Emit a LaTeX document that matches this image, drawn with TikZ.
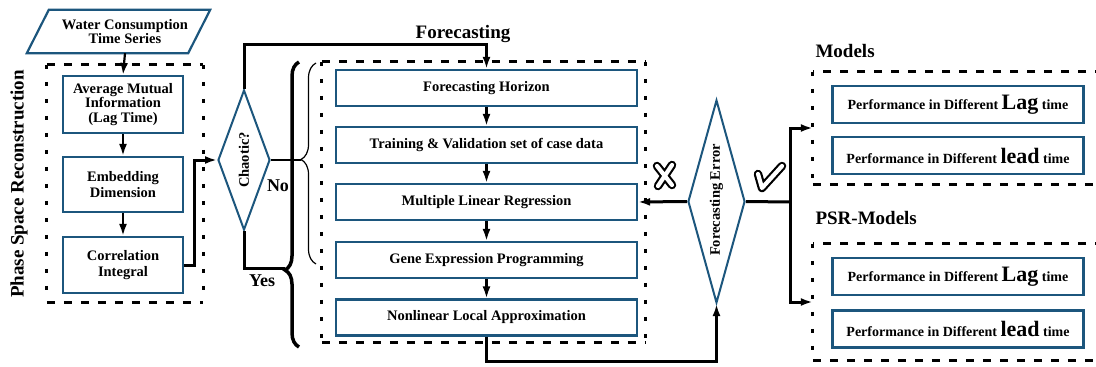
\documentclass[tikz,border=0pt]{standalone}
\usepackage{fontspec}
\setmainfont{Liberation Serif}
\usetikzlibrary{arrows.meta,shapes.geometric,decorations.pathreplacing,calc}
\definecolor{boxblue}{RGB}{28,86,125}
\begin{document}
\begin{tikzpicture}[x=1pt,y=-1pt,
  fs/.style={font=\fontsize{14.5}{16.5}\selectfont\bfseries},
  big/.style={font=\fontsize{19}{21}\selectfont\bfseries},
  box/.style={draw=boxblue, line width=2.2pt, rectangle, inner sep=0pt, align=center, fs},
  pbox/.style={draw=boxblue, line width=2.2pt, rectangle, inner sep=0pt, minimum width=251, minimum height=37,
    font=\fontsize{14}{16}\selectfont\bfseries},
  dia/.style={draw=boxblue, line width=2pt, diamond, inner sep=0pt},
  frame/.style={draw=none, rectangle, inner sep=0pt},
  hdash/.style={line width=3pt, dash pattern=on 8pt off 9pt},
  vdash/.style={line width=3pt, dash pattern=on 4pt off 13pt},
  conn/.style={line width=3pt},
  thinconn/.style={line width=2.2pt},
  arr/.style={-{Latex[length=12pt,width=8pt]}},
  outl/.style={line width=8.5pt, line cap=round, line join=round},
  inl/.style={line width=4.2pt, white, line cap=round, line join=round},
]
\useasboundingbox (0,0) rectangle (1096,367);

% ---------- left column ----------
\node[frame, minimum width=148, minimum height=43] (src) at (125,31.5) {};
\draw[boxblue, line width=2.2pt, line join=miter]
  ($(src.north west)+(-2,0)$) -- ($(src.north east)+(11,0)$) -- ($(src.south east)+(-11,0)$) -- ($(src.south west)+(-24,0)$) -- cycle;
\node[fs, align=center] at (src.center) {Water Consumption\\[-2pt]Time Series};

\node[frame, minimum width=156, minimum height=237] (psr) at (125,183.5) {};
\draw[hdash] (psr.north west) -- (psr.north east);
\draw[hdash] (psr.south west) -- (psr.south east);
\draw[vdash] (psr.north west) -- (psr.south west);
\draw[vdash] (psr.north east) -- (psr.south east);

\node[box, minimum width=120, minimum height=57] (ami) at (123,104.5) {Average Mutual\\[-2pt]Information\\[-2pt](Lag Time)};
\node[box, minimum width=120, minimum height=55] (emb) at (123,184.5) {Embedding\\[-1pt]Dimension};
\node[box, minimum width=120, minimum height=56] (cor) at (123,265) {Correlation\\[-1pt]Integral};

\node[big, rotate=90] (psrlab) at (19,184) {Phase Space Reconstruction};

\draw[thinconn, arr] (src.south) -- (ami.north);
\draw[thinconn, arr] (ami.south) -- (emb.north);
\draw[thinconn, arr] (emb.south) -- (cor.north);

% ---------- chaotic diamond ----------
\node[dia, minimum width=52, minimum height=140] (ch) at (244,160) {};
\node[fs, rotate=90] at (ch.center) {Chaotic?};
\draw[conn, arr] (cor.east) -- ++(10,0) |- (ch.west);

% ---------- forecasting block ----------
\node[frame, minimum width=323, minimum height=280] (fc) at (483.5,202) {};
\draw[hdash] (fc.north west) -- (fc.north east);
\draw[hdash] (fc.south west) -- (fc.south east);
\draw[vdash] (fc.north west) -- (fc.south west);
\draw[vdash] (fc.north east) -- (fc.south east);

\node[box, minimum width=301, minimum height=36] (hor) at (486.5,88) {Forecasting Horizon};
\node[box, minimum width=301, minimum height=36] (trn) at (486.5,145) {Training \& Validation set of case data};
\node[box, minimum width=301, minimum height=36] (mlr) at (486.5,202) {Multiple Linear Regression};
\node[box, minimum width=301, minimum height=36] (gep) at (486.5,260) {Gene Expression Programming};
\node[box, minimum width=301, minimum height=36] (nla) at (486.5,317.5) {Nonlinear Local Approximation};

\draw[thinconn, arr] (hor.south) -- (trn.north);
\draw[thinconn, arr] (trn.south) -- (mlr.north);
\draw[thinconn, arr] (mlr.south) -- (gep.north);
\draw[thinconn, arr] (gep.south) -- (nla.north);

\node[big] (fclab) at (463,34) {Forecasting};
\draw[conn, arr] (ch.north) -- ++(0,-45) -| (hor.north);

% ---------- braces ----------
\coordinate (tb1) at (299,347);
\coordinate (tb2) at (299,62);
\draw[line width=3.5pt, decorate, decoration={brace, amplitude=14pt, aspect=0.27}] (tb1) -- (tb2);
\coordinate (nb1) at (316,264);
\coordinate (nb2) at (316,63);
\draw[line width=1.2pt, decorate, decoration={brace, amplitude=15pt, aspect=0.52}] (nb1) -- (nb2);

\coordinate (notip) at (301,160);
\draw[thinconn] (ch.east) -- (notip);
\coordinate (yestip) at (285,268);
\draw[conn] (ch.south) |- (yestip);
\node[font=\fontsize{18}{20}\selectfont\bfseries] (nolab) at (278,186) {No};
\node[font=\fontsize{18}{20}\selectfont\bfseries] (yeslab) at (262,281) {Yes};

% ---------- forecasting error ----------
\node[dia, minimum width=57, minimum height=203] (fe) at (716.5,201.5) {};
\node[fs, rotate=90] at (716.5,200) {Forecasting Error};
\draw[conn, arr] (fe.west) -- (mlr.east);
\draw[conn, arr] (nla.south) -- ++(0,25) -| (fe.south);

% cross mark
\draw[outl] (657,166) -- (672,185) (672,165) -- (658,186);
\draw[inl]  (657,166) -- (672,185) (672,165) -- (658,186);
% check mark
\draw[outl] (758,174) -- (762,188) -- (782,166);
\draw[inl]  (758,174) -- (762,188) -- (782,166);

% ---------- models ----------
\node[big, anchor=west] (mlab) at (812,51) {Models};
\node[frame, minimum width=290, minimum height=112] (mod) at (958,128) {};
\draw[hdash] (mod.north east) -- (mod.north west);
\draw[vdash] (mod.north west) -- (mod.south west);
\draw[hdash] (mod.south west) -- (mod.south east);
\node[pbox] (m1) at (958,104.5) {Performance in Different {\fontsize{22}{22}\selectfont Lag} time};
\node[pbox] (m2) at (958,155.5) {Performance in Different {\fontsize{22}{22}\selectfont lead} time};

\node[big, anchor=west] (plab) at (812,218) {PSR-Models};
\node[frame, minimum width=290, minimum height=116] (pm) at (958,302) {};
\draw[hdash] (pm.north east) -- (pm.north west);
\draw[vdash] (pm.north west) -- (pm.south west);
\draw[hdash] (pm.south west) -- (pm.south east);
\node[pbox] (p1) at (958,276.5) {Performance in Different {\fontsize{22}{22}\selectfont Lag} time};
\node[pbox] (p2) at (958,329) {Performance in Different {\fontsize{22}{22}\selectfont lead} time};

\coordinate (split) at (790,202);
\draw[conn] (fe.east) -- (split);
\draw[conn, arr] (split) |- (mod.west);
\draw[conn, arr] (split) |- (pm.west);
\end{tikzpicture}
\end{document}
